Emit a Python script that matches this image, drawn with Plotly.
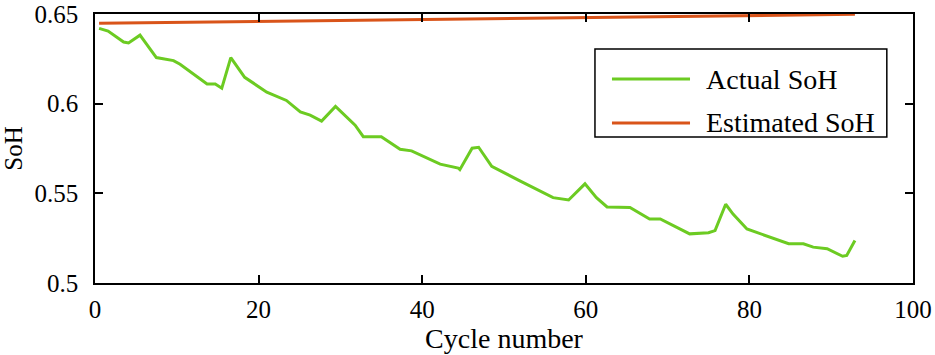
import plotly.graph_objects as go

# ---- data ----
series_names = ["Actual SoH", "Estimated SoH"]

actual_cycle = [0.5, 1.6, 3.5, 4.1, 5.5, 7.5, 9.6, 10.4, 13.7, 14.7, 15.5, 16.6, 18.3, 21.0,
                23.4, 25.1, 26.3, 27.7, 29.4, 31.8, 32.8, 35.0, 37.3, 38.7, 42.2, 44.4, 44.6,
                46.1, 46.9, 48.5, 52.0, 56.0, 57.9, 59.9, 61.3, 62.6, 65.4, 67.8, 69.1, 72.7,
                75.0, 75.8, 77.1, 78.0, 79.7, 82.9, 84.8, 86.6, 87.8, 89.5, 91.4, 91.9, 92.9]
actual_soh = [0.642, 0.6405, 0.6344, 0.6339, 0.6382, 0.6257, 0.624, 0.622, 0.611, 0.611,
              0.6086, 0.6257, 0.6147, 0.6064, 0.6018, 0.5954, 0.5936, 0.5903, 0.5985, 0.588,
              0.5816, 0.5816, 0.5746, 0.5737, 0.5663, 0.5641, 0.5632, 0.5752, 0.5757, 0.5651,
              0.5568, 0.5476, 0.5463, 0.5553, 0.5476, 0.5424, 0.5421, 0.5357, 0.5357, 0.5274,
              0.528, 0.5292, 0.5439, 0.5384, 0.5301, 0.5252, 0.5219, 0.5219, 0.52, 0.5191,
              0.5149, 0.5154, 0.5237]

estimated_cycle = [0.5, 92.9]
estimated_soh = [0.6448, 0.6498]

x_ticks = [0, 20, 40, 60, 80, 100]
y_ticks = [0.5, 0.55, 0.6, 0.65]
y_tick_labels = ["0.5", "0.55", "0.6", "0.65"]

colors = ["#6CCB22", "#D9541A"]
FONT = "Liberation Serif, Times New Roman, serif"

fig = go.Figure()
fig.add_trace(go.Scatter(x=actual_cycle, y=actual_soh, mode="lines", name=series_names[0],
                         line=dict(color=colors[0], width=3), showlegend=False))
fig.add_trace(go.Scatter(x=estimated_cycle, y=estimated_soh, mode="lines", name=series_names[1],
                         line=dict(color=colors[1], width=3), showlegend=False))

axis_common = dict(showline=True, linecolor="black", linewidth=1.5, mirror="ticks",
                   ticks="inside", ticklen=8, tickwidth=1.5, tickcolor="black",
                   showgrid=False, zeroline=False, automargin=False,
                   ticklabeloverflow="allow",
                   tickfont=dict(family=FONT, size=25, color="black"))

fig.update_xaxes(range=[0, 100], tickvals=x_ticks, ticklabelstandoff=3,
                 title=dict(text="Cycle number", font=dict(family=FONT, size=28, color="black"),
                            standoff=0),
                 **axis_common)
fig.update_yaxes(range=[0.5, 0.65], tickvals=y_ticks, ticktext=y_tick_labels,
                 ticklabelstandoff=10,
                 title=dict(text="SoH", font=dict(family=FONT, size=25, color="black"),
                            standoff=19),
                 **axis_common)

# legend box drawn in paper coordinates
fig.add_shape(type="rect", xref="paper", yref="paper", x0=0.6112, x1=0.968, y0=0.543, y1=0.870,
              line=dict(color="black", width=1.5), fillcolor="white", layer="above")
legend_rows_y = [0.758, 0.595]
for name, col, yy in zip(series_names, colors, legend_rows_y):
    fig.add_shape(type="line", xref="paper", yref="paper", x0=0.632, x1=0.7274, y0=yy, y1=yy,
                  line=dict(color=col, width=3), layer="above")
    fig.add_annotation(xref="paper", yref="paper", x=0.745, y=yy, text=name, showarrow=False,
                       xanchor="left", yanchor="middle",
                       font=dict(family=FONT, size=28, color="black"))

fig.update_layout(width=935, height=355, margin=dict(l=95, r=22, t=14, b=72),
                  paper_bgcolor="white", plot_bgcolor="white",
                  font=dict(family=FONT, color="black"))

# remove the browser's default 8px page margin so the figure fills the window exactly
fig.write_html("out.html", config={"displayModeBar": False},
               post_script="document.body.style.margin='0';")
